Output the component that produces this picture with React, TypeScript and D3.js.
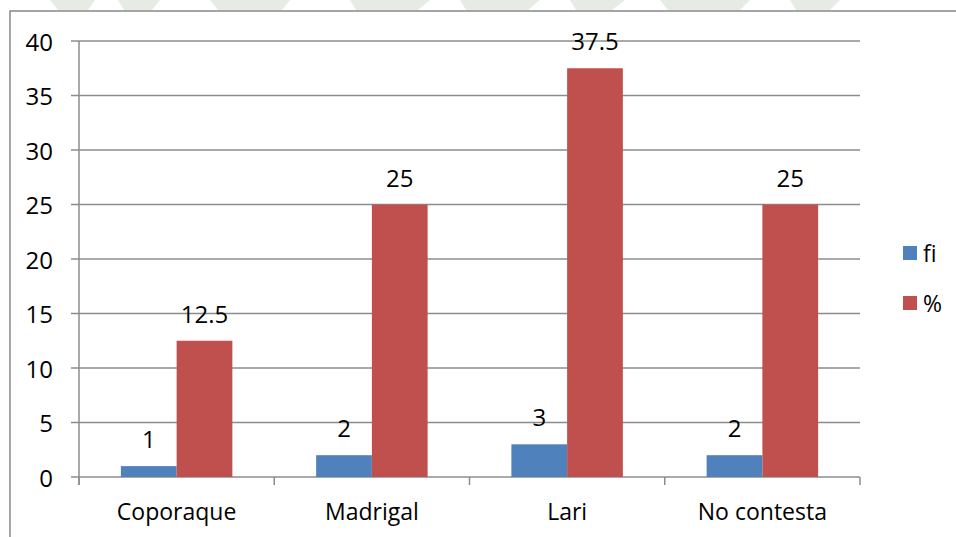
import React from "react";
import * as d3 from "d3";

const categories = ["Coporaque", "Madrigal", "Lari", "No contesta"];
const seriesNames = ["fi", "%"];
const fiValues = [1, 2, 3, 2];
const pctValues = [12.5, 25, 37.5, 25];
const yTicks = [0, 5, 10, 15, 20, 25, 30, 35, 40];
const seriesColors = ["#4F81BD", "#C0504D"];

const W = 956;
const H = 537;
const FONT = "'Open Sans', sans-serif";

export default function App() {
  const left = 79;
  const right = 860;
  const top = 41;
  const bottom = 477;

  const x = d3
    .scaleBand<string>()
    .domain(categories)
    .range([left, right])
    .paddingInner(0.429)
    .paddingOuter(0.2145);
  const xs = d3
    .scaleBand<string>()
    .domain(seriesNames)
    .range([0, x.bandwidth()])
    .padding(0);
  const y = d3.scaleLinear().domain([0, 40]).range([bottom, top]);

  const seriesValues = [fiValues, pctValues];
  const step = (right - left) / categories.length;
  const boundaries = d3.range(categories.length + 1).map((i) => left + i * step);

  const grid = "#8c8c8c";

  return (
    <svg
      width={W}
      height={H}
      style={{ position: "absolute", left: 0, top: 0, background: "#fff" }}
      fontFamily={FONT}
    >
      {/* faint watermark strip at top */}
      <g fill="#e6ebe3">
        <path d="M50,0 L95,0 L88,10 L58,10 Z" />
        <path d="M118,0 L160,0 L152,10 L124,10 Z" />
        <path d="M210,0 L290,0 L282,10 L218,10 Z" />
        <path d="M350,0 L430,0 L418,10 L356,10 Z" />
        <path d="M460,0 L540,0 L528,10 L466,10 Z" />
        <path d="M570,0 L625,0 L612,10 L576,10 Z" />
        <path d="M660,0 L750,0 L740,10 L668,10 Z" />
        <path d="M790,0 L840,0 L830,10 L796,10 Z" />
      </g>
      {/* outer chart border */}
      <rect x={10} y={11} width={W + 20} height={H + 20} fill="#fff" stroke="#888" strokeWidth={1.5} />

      {/* gridlines + y ticks */}
      {yTicks.map((t) => (
        <g key={t}>
          <line x1={left - 8} x2={right} y1={y(t)} y2={y(t)} stroke={grid} strokeWidth={1.5} />
          <text
            x={53}
            y={y(t)}
            textAnchor="end"
            dominantBaseline="central"
            fontSize={24}
            fill="#000"
          >
            {t}
          </text>
        </g>
      ))}

      {/* y axis line */}
      <line x1={left} x2={left} y1={top} y2={bottom + 8} stroke={grid} strokeWidth={1.5} />
      {/* category ticks */}
      {boundaries.map((b, i) => (
        <line key={i} x1={b} x2={b} y1={bottom} y2={bottom + 8} stroke={grid} strokeWidth={1.5} />
      ))}

      {/* bars */}
      {categories.map((c, ci) => (
        <g key={c} transform={`translate(${x(c)},0)`}>
          {seriesNames.map((s, si) => {
            const v = seriesValues[si][ci];
            const bx = xs(s) as number;
            return (
              <g key={s}>
                <rect
                  x={bx}
                  y={y(v)}
                  width={xs.bandwidth()}
                  height={bottom - y(v)}
                  fill={seriesColors[si]}
                />
                <text
                  x={bx + xs.bandwidth() / 2}
                  y={y(v) - 18}
                  textAnchor="middle"
                  fontSize={24}
                  fill="#000"
                >
                  {v}
                </text>
              </g>
            );
          })}
        </g>
      ))}

      {/* category labels */}
      {categories.map((c) => (
        <text
          key={c}
          x={(x(c) as number) + x.bandwidth() / 2}
          y={520}
          textAnchor="middle"
          fontSize={23}
          fill="#000"
        >
          {c}
        </text>
      ))}

      {/* legend */}
      {seriesNames.map((s, i) => (
        <g key={s} transform={`translate(903,${246 + i * 50})`}>
          <rect x={0} y={0} width={14} height={14} fill={seriesColors[i]} />
          <text x={20} y={7} dominantBaseline="central" fontSize={23} fill="#000">
            {s}
          </text>
        </g>
      ))}
    </svg>
  );
}
